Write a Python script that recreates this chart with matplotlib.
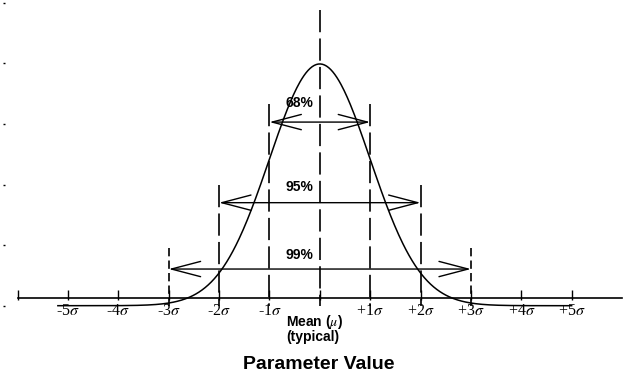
import numpy as np
import matplotlib.pyplot as plt
from matplotlib.patches import FancyArrowPatch, ArrowStyle

plt.rcParams["mathtext.fontset"] = "stix"
plt.rcParams["lines.scale_dashes"] = False

# axis ticks in units of sigma
sigma_ticks = [-6, -5, -4, -3, -2, -1, 0, 1, 2, 3, 4, 5]
sigma_labels = ["", r"-5$\sigma$", r"-4$\sigma$", r"-3$\sigma$", r"-2$\sigma$", r"-1$\sigma$",
                "", r"+1$\sigma$", r"+2$\sigma$", r"+3$\sigma$", r"+4$\sigma$", r"+5$\sigma$"]

# coverage intervals
coverage = ["68%", "95%", "99%"]
coverage_k = [1, 2, 3]
arrow_y = [0.303, 0.170, 0.0605]
label_y = [0.334, 0.196, 0.0836]
guide_top = [0.333, 0.199, 0.095]
mean_top = 0.4875
axis_y = 0.0132

# normal density curve
curve_x = np.linspace(-5.2, 5.0, 500)
curve_y = np.exp(-curve_x ** 2 / 2) / np.sqrt(2 * np.pi)

fig = plt.figure(figsize=(6.23, 3.72), dpi=100)
ax = fig.add_axes([5 / 623, (372 - 305.7) / 372, 617 / 623, 303 / 372])
ax.set_xlim(-6.25, 6.0)
ax.set_ylim(0, 0.5)
ax.patch.set_visible(False)
for s in ax.spines.values():
    s.set_visible(False)
ax.set_xticks([])
ax.set_yticks(np.arange(0, 0.51, 0.1))
ax.tick_params(axis="y", length=1.5, width=1, labelleft=False)

# horizontal axis with ticks
ax.plot([-6, 6.0], [axis_y, axis_y], color="black", lw=1.2, clip_on=False)
ax.vlines(sigma_ticks, axis_y - 0.003, axis_y + 0.013, color="black", lw=1)
for k, lab in zip(sigma_ticks, sigma_labels):
    if lab:
        ax.text(k, -0.008, lab, ha="center", va="center", fontsize=11.5,
                family="Liberation Serif")

# curve
ax.plot(curve_x, curve_y, color="black", lw=1.1, clip_on=False)

# dashed guides (drawn top-down so the pattern starts at the top)
ax.plot([0, 0], [mean_top, 0], color="black", lw=1.2, dashes=(16, 4.5))
for k, top in zip(coverage_k, guide_top):
    dash = (16, 4.5) if k < 3 else (6, 3)
    for side in (-1, 1):
        ax.plot([side * k, side * k], [top, 0], color="black", lw=1.2, dashes=dash)

# arrows and percentages
for lab, k, ay, ly in zip(coverage, coverage_k, arrow_y, label_y):
    arr = FancyArrowPatch((-k, ay), (k, ay),
                          arrowstyle=ArrowStyle("<->", head_length=21, head_width=5.5),
                          mutation_scale=1, shrinkA=0, shrinkB=0, lw=1, color="black")
    ax.add_patch(arr)
    ax.text(-0.4, ly, lab, ha="center", va="center", fontsize=10, weight="bold",
            family="Liberation Sans")

# mean label
ax.text(-0.675, -0.0264, r"Mean ($\mu$)", ha="left", va="center", fontsize=10,
        weight="bold", family="Liberation Sans")
ax.text(-0.675, -0.0516, "(typical)", ha="left", va="center", fontsize=10,
        weight="bold", family="Liberation Sans")

fig.text(319 / 623, 1 - 369 / 372, "Parameter Value", ha="center", va="baseline",
         fontsize=14, weight="bold", family="Liberation Sans")

fig.savefig("out.png", dpi=100)
